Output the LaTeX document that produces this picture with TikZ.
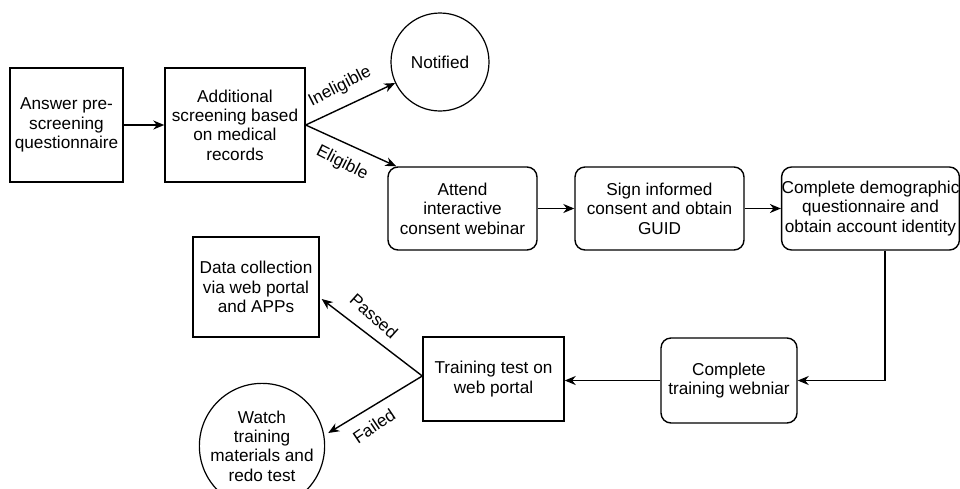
\documentclass[tikz,border=0pt]{standalone}
\usepackage{fontspec}
\setmainfont{Liberation Sans}
\usetikzlibrary{arrows.meta,calc}
\begin{document}
\begin{tikzpicture}[x=1pt,y=-1pt,
  every node/.style={font=\fontsize{17.2}{19.4}\selectfont, align=center, inner sep=0pt},
  box/.style={draw, line width=1.4pt, rectangle, minimum width=#1},
  rbox/.style={draw, line width=1.4pt, rectangle, rounded corners=10pt, minimum width=#1},
  circ/.style={draw, line width=1.2pt, circle, minimum size=#1},
  conn/.style={line width=1.4pt, -{Stealth[length=11pt,width=9pt,inset=3.5pt]}},
  lbl/.style={font=\fontsize{17.2}{19.4}\selectfont}]
\useasboundingbox (0,0) rectangle (960,488);
\node[box=113pt, minimum height=114pt] (A) at (66.5,125) {Answer pre-\\screening\\questionnaire};
\node[box=140pt, minimum height=114pt] (B) at (235,125) {Additional\\screening based\\on medical\\records};
\node[circ=98pt] (N) at (440,62) {Notified};
\node[rbox=149pt, minimum height=83pt] (Att) at (462.5,208.5) {Attend\\interactive\\consent webinar};
\node[rbox=169pt, minimum height=83pt] (Sign) at (659.5,208.5) {Sign informed\\consent and obtain\\GUID};
\node[rbox=177pt, minimum height=83pt] (Demo) at (870.5,208.5) {Complete demographic\\questionnaire and\\obtain account identity};
\node[rbox=136pt, minimum height=85pt] (Train) at (729,380.5) {Complete\\training webniar};
\node[box=141pt, minimum height=84pt] (Test) at (493.5,379) {Training test on\\web portal};
\node[box=126pt, minimum height=100pt] (Data) at (256,287) {Data collection\\via web portal\\and APPs};
\node[circ=112pt] (Watch) at (262,446) {Watch\\training\\materials and\\redo test};

\draw[conn] (A) -- (B);
\draw[conn] (B.east) -- (N);
\draw[conn] (B.east) -- ([xshift=9pt]Att.north west);
\draw[conn] (Att) -- (Sign);
\draw[conn] (Sign) -- (Demo);
\draw[conn] ([xshift=14.5pt]Demo.south) |- (Train.east);
\draw[conn] (Train.west) -- (Train.west -| Test.east);
\draw[conn] ([yshift=3pt]Test.west) -- ([xshift=2pt,yshift=-12pt]Data.east);
\draw[conn] ([yshift=3pt]Test.west) -- ([xshift=3pt,yshift=13pt]Watch.east);

\node[lbl, rotate=27] (l1) at (340,87) {Ineligible};
\node[lbl, rotate=-27] (l2) at (342,163) {Eligible};
\node[lbl, rotate=-42] (l3) at (374,316) {Passed};
\node[lbl, rotate=34] (l4) at (374,426) {Failed};
\end{tikzpicture}
\end{document}
